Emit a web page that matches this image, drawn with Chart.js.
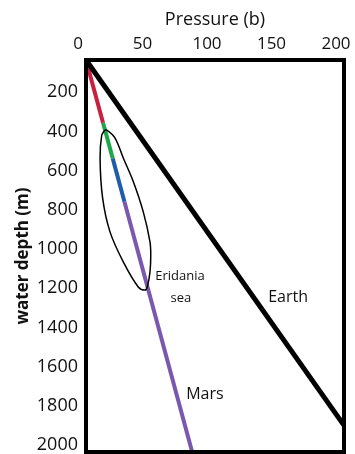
<!DOCTYPE html>
<html>
<head>
<meta charset="utf-8">
<script src="https://cdn.jsdelivr.net/npm/chart.js@4"></script>
<style>
html,body{margin:0;padding:0;background:#fff;}
#wrap{width:355px;height:454px;}
</style>
</head>
<body>
<div id="wrap"><canvas id="c" width="355" height="454"></canvas></div>
<script>
// ---- data (pressure in bar, depth in m) ----
const xTicks = [0, 50, 100, 150, 200];
const yTicks = [200, 400, 600, 800, 1000, 1200, 1400, 1600, 1800, 2000];
const earthPressure = [0, 200];
const earthDepth = [0, 1864];
const marsRedP = [0, 13.2];
const marsRedD = [0, 320];
const marsGreenP = [13.2, 20.7];
const marsGreenD = [320, 502];
const marsBlueP = [20.7, 29.8];
const marsBlueD = [502, 723];
const marsPurpleP = [29.8, 82.3];
const marsPurpleD = [723, 2000];
const seaLoopP = [14.7, 12.2, 10.9, 12.9, 18.6, 28.9, 40.5, 45.7, 47.5, 49.6, 50.2, 49.6, 44.4, 36.7, 28.9, 22.5, 16.0, 14.7];
const seaLoopD = [357, 383, 502, 705, 877, 1030, 1158, 1174, 1158, 1081, 996, 928, 775, 621, 500, 398, 357, 357];
const labelTexts = ["Eridania", "sea", "Earth", "Mars"];
const labelP = [72.9, 73.6, 156.7, 92.2];
const labelD = [1106, 1215, 1209, 1706];

const pts = (xs, ys) => xs.map((x, i) => ({x: x, y: ys[i]}));
const FONT = "'Open Sans', sans-serif";

const boxPlugin = {
  id: 'box',
  afterDatasetsDraw(chart) {
    const {ctx, chartArea: a, scales} = chart;
    ctx.save();
    ctx.strokeStyle = '#000';
    ctx.lineWidth = 4;
    ctx.strokeRect(a.left, a.top, a.right - a.left, a.bottom - a.top);
    ctx.fillStyle = '#111';
    ctx.textAlign = 'center';
    ctx.textBaseline = 'middle';
    labelTexts.forEach((t, i) => {
      const small = i < 2;
      ctx.font = (small ? '13px ' : '16px ') + FONT;
      ctx.fillText(t, scales.x.getPixelForValue(labelP[i]), scales.y.getPixelForValue(labelD[i]));
    });
    ctx.restore();
  }
};

const seg = (data, color, w) => ({
  data: data, borderColor: color, borderWidth: w, pointRadius: 0,
  showLine: true, fill: false, borderCapStyle: 'butt'
});

new Chart(document.getElementById('c'), {
  type: 'scatter',
  data: {
    datasets: [
      Object.assign(seg(pts(earthPressure, earthDepth), '#000', 5), {clip: 4}),
      Object.assign(seg(pts(seaLoopP, seaLoopD), '#000', 1.5), {tension: 0.35}),
      seg(pts(marsRedP, marsRedD), '#c8203f', 4),
      seg(pts(marsGreenP, marsGreenD), '#1fa64a', 4),
      seg(pts(marsBlueP, marsBlueD), '#1f5cab', 4),
      seg(pts(marsPurpleP, marsPurpleD), '#7a58b0', 4)
    ]
  },
  options: {
    responsive: false,
    animation: false,
    layout: {padding: {left: 0, top: 0, right: 11, bottom: 2}},
    plugins: {legend: {display: false}, tooltip: {enabled: false}},
    scales: {
      x: {
        type: 'linear', position: 'top', min: 0, max: 200,
        afterFit(s) { s.height = 60; s.paddingLeft = 0; s.paddingRight = 0; },
        afterBuildTicks(s) { s.ticks = xTicks.map(v => ({value: v})); },
        grid: {display: false, drawTicks: false},
        border: {display: false},
        ticks: {autoSkip: false, maxRotation: 0, padding: 6, labelOffset: -8,
                color: '#111', font: {family: FONT, size: 17},
                callback: v => String(v)},
        title: {display: true, text: 'Pressure (b)', color: '#111',
                font: {family: FONT, size: 18}, padding: {top: 9, bottom: 0}}
      },
      y: {
        type: 'linear', position: 'left', reverse: true, min: 0, max: 2000,
        afterFit(s) { s.width = 86; s.paddingTop = 0; s.paddingBottom = 0; },
        afterBuildTicks(s) { s.ticks = yTicks.map(v => ({value: v})); },
        grid: {display: false, drawTicks: false},
        border: {display: false},
        ticks: {autoSkip: false, padding: 8, labelOffset: -7,
                color: '#111', font: {family: FONT, size: 18},
                callback: v => String(v)},
        title: {display: true, text: 'water depth (m)', color: '#111',
                font: {family: FONT, size: 17, weight: 'bold'}, padding: {top: 13, bottom: 0}}
      }
    }
  },
  plugins: [boxPlugin]
});
</script>
</body>
</html>
